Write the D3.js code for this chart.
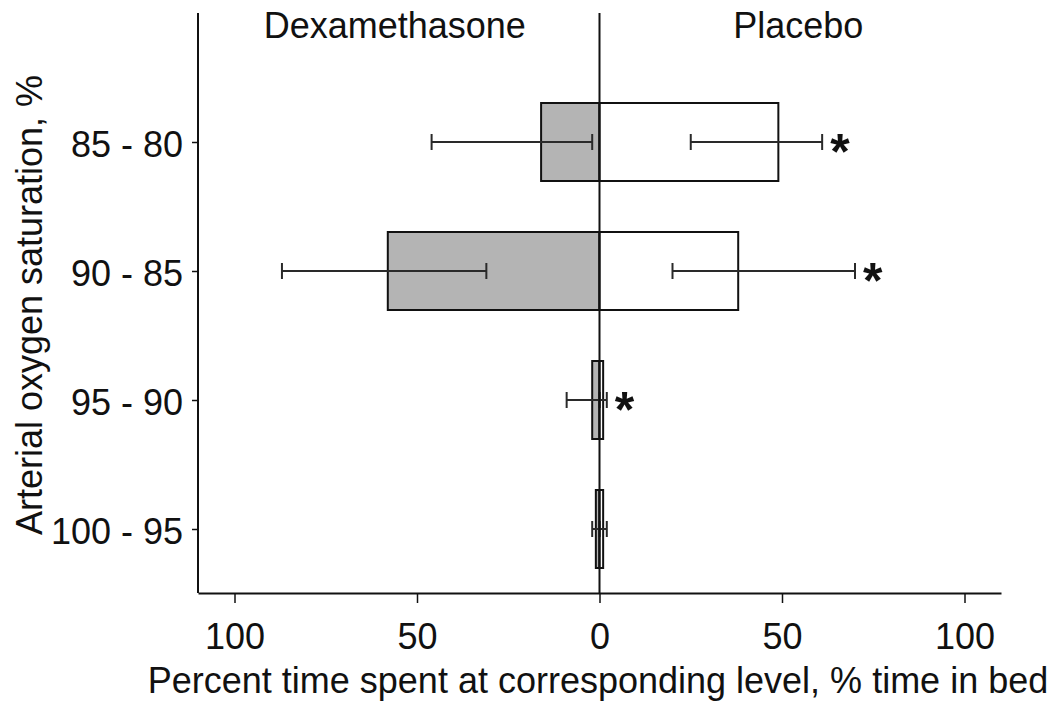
<!DOCTYPE html>
<html>
<head>
<meta charset="utf-8">
<script src="https://cdn.jsdelivr.net/npm/d3@7"></script>
<style>
  html, body { margin: 0; padding: 0; background: #fff; }
  svg { display: block; font-family: "Liberation Sans", Arial, sans-serif; }
</style>
</head>
<body>
<svg id="chart" width="1054" height="702"></svg>
<script>
// Saturation bands, top to bottom
const categories = ["85 - 80", "90 - 85", "95 - 90", "100 - 95"];

// Percent of time in bed spent in each band
const dexValues = [16, 58, 2, 1];
const placeboValues = [49, 38, 1, 1];

// Error ranges (low, high) for each group
const dexErrLow = [2, 31, 0, 0];
const dexErrHigh = [46, 87, 9, 2];
const placeboErrLow = [25, 20, 0, 0];
const placeboErrHigh = [61, 70, 2, 2];

// Significant difference markers
const significant = [true, true, true, false];

const xTicks = [-100, -50, 0, 50, 100];
const groupLabels = ["Dexamethasone", "Placebo"];

(function draw() {
  const svg = d3.select("#chart");
  const plotLeft = 198, plotRight = 1001, plotTop = 13, plotBottom = 593;
  const fontSize = 36;
  const ink = "#111";

  const x = d3.scaleLinear().domain([-110, 110]).range([plotLeft, plotRight]);
  const y = d3.scalePoint().domain(categories).range([142, 529]);
  const barH = 78;
  const capH = 16;

  const rows = categories.map((c, i) => ({
    cat: c,
    dex: dexValues[i], pla: placeboValues[i],
    dLo: dexErrLow[i], dHi: dexErrHigh[i],
    pLo: placeboErrLow[i], pHi: placeboErrHigh[i],
    sig: significant[i]
  }));

  const g = svg.append("g");

  // Dexamethasone bars extend to the left of zero
  g.selectAll("rect.dex").data(rows).join("rect")
    .attr("class", "dex")
    .attr("x", d => x(-d.dex))
    .attr("width", d => x(0) - x(-d.dex))
    .attr("y", d => y(d.cat) - barH / 2)
    .attr("height", barH)
    .attr("fill", "#b4b4b4")
    .attr("stroke", ink)
    .attr("stroke-width", 2);

  // Placebo bars extend to the right
  g.selectAll("rect.pla").data(rows).join("rect")
    .attr("class", "pla")
    .attr("x", x(0))
    .attr("width", d => x(d.pla) - x(0))
    .attr("y", d => y(d.cat) - barH / 2)
    .attr("height", barH)
    .attr("fill", "#fff")
    .attr("stroke", ink)
    .attr("stroke-width", 2);

  // Error bars
  const errs = [];
  rows.forEach(d => {
    errs.push({ cat: d.cat, a: -d.dHi, b: -d.dLo });
    errs.push({ cat: d.cat, a: d.pLo, b: d.pHi });
  });
  const eg = g.selectAll("g.err").data(errs).join("g").attr("class", "err")
    .attr("stroke", "#2a2a2a").attr("stroke-width", 2);
  eg.append("line")
    .attr("x1", d => x(d.a)).attr("x2", d => x(d.b))
    .attr("y1", d => y(d.cat)).attr("y2", d => y(d.cat));
  eg.append("line")
    .attr("x1", d => x(d.a)).attr("x2", d => x(d.a))
    .attr("y1", d => y(d.cat) - capH / 2).attr("y2", d => y(d.cat) + capH / 2);
  eg.append("line")
    .attr("x1", d => x(d.b)).attr("x2", d => x(d.b))
    .attr("y1", d => y(d.cat) - capH / 2).attr("y2", d => y(d.cat) + capH / 2);

  // Significance asterisks beside the placebo error bar
  g.selectAll("text.sig").data(rows.filter(d => d.sig)).join("text")
    .attr("class", "sig")
    .attr("x", d => x(d.pHi) + 8)
    .attr("y", d => y(d.cat) + 27)
    .attr("font-size", 50)
    .attr("font-weight", "bold")
    .attr("fill", ink)
    .text("*");

  // Zero line
  svg.append("line")
    .attr("x1", x(0)).attr("x2", x(0))
    .attr("y1", plotTop).attr("y2", plotBottom)
    .attr("stroke", ink).attr("stroke-width", 2);

  // Axes
  const xAxis = svg.append("g")
    .attr("transform", `translate(0,${plotBottom})`)
    .call(d3.axisBottom(x).tickValues(xTicks).tickFormat(d => Math.abs(d))
      .tickSize(10).tickPadding(20).tickSizeOuter(0));
  xAxis.select(".domain").attr("stroke", ink).attr("stroke-width", 2);
  xAxis.selectAll(".tick line").attr("stroke", ink).attr("stroke-width", 1.5);
  xAxis.selectAll(".tick text").attr("font-size", fontSize)
    .attr("font-family", "Liberation Sans, Arial, sans-serif").attr("fill", ink);

  const yAxis = svg.append("g")
    .attr("transform", `translate(${plotLeft},0)`)
    .call(d3.axisLeft(y).tickSize(6).tickPadding(9).tickSizeOuter(0));
  yAxis.select(".domain").attr("d", `M0,${plotTop}V${plotBottom}`)
    .attr("stroke", ink).attr("stroke-width", 2);
  yAxis.selectAll(".tick line").attr("stroke", ink).attr("stroke-width", 1.5);
  yAxis.selectAll(".tick text").attr("font-size", fontSize).attr("dy", "0.4em")
    .attr("font-family", "Liberation Sans, Arial, sans-serif").attr("fill", ink);

  // Group headers
  svg.append("text")
    .attr("x", (x(-110) + x(0)) / 2 - 4).attr("y", 38)
    .attr("text-anchor", "middle").attr("font-size", fontSize).attr("fill", ink)
    .text(groupLabels[0]);
  svg.append("text")
    .attr("x", (x(0) + x(110)) / 2 - 2).attr("y", 38)
    .attr("text-anchor", "middle").attr("font-size", fontSize).attr("fill", ink)
    .text(groupLabels[1]);

  // Axis titles
  svg.append("text")
    .attr("x", 598).attr("y", 693)
    .attr("text-anchor", "middle").attr("font-size", fontSize).attr("fill", ink)
    .text("Percent time spent at corresponding level, % time in bed");
  svg.append("text")
    .attr("transform", "translate(42,305) rotate(-90)")
    .attr("text-anchor", "middle").attr("font-size", fontSize).attr("fill", ink)
    .text("Arterial oxygen saturation, %");
})();
</script>
</body>
</html>
